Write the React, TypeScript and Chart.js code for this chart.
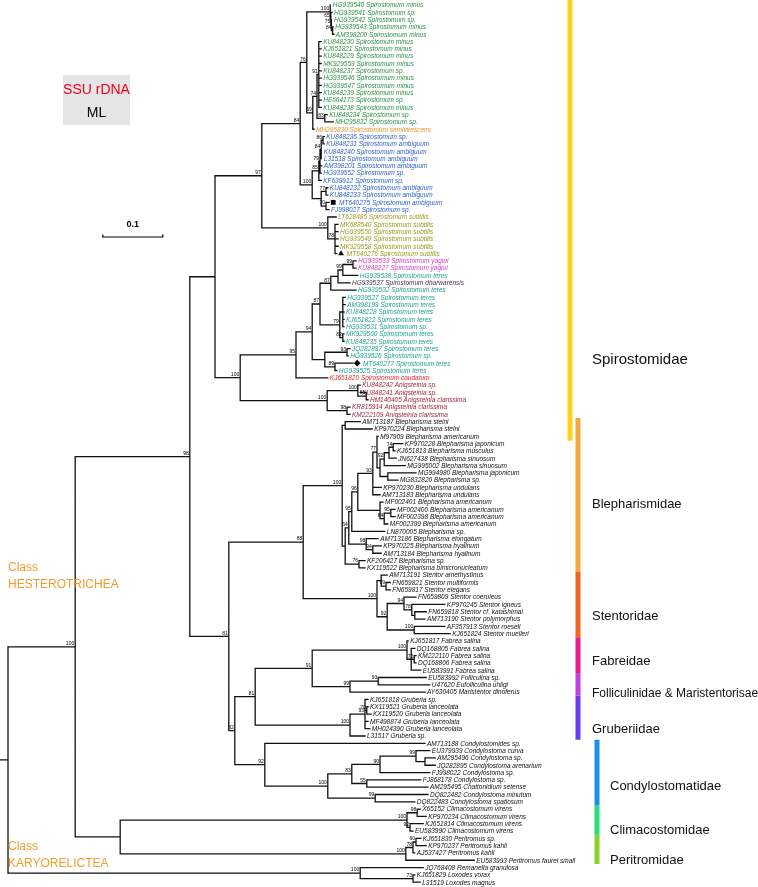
import React, { useEffect, useRef } from "react";
import { Chart, registerables } from "chart.js";

Chart.register(...registerables);

// ---------------- DATA ----------------
const accessions = [
  "HG939540","HG939541","HG939542","HG939543","AM398200","KU848230","KJ651821","KU848229","MK929559","KU848237",
  "HG939546","HG939547","KU848239","HE664173","KU848238","KU848234","MH295832","MH295830","KU848236","KU848231",
  "KU848240","L31518","AM398201","HG939552","KF639912","KU848232","KU848233","MT640275","FJ998027","LT628485",
  "MK688540","HG939550","HG939549","MK929558","MT640276","HG939533","KU848227","HG939538","HG939537","HG939532",
  "HG939527","AM398199","KU848228","KJ651822","HG939531","MK929560","KU848235","JQ282897","HG939526","MT640277",
  "HG939525","KJ651820","KU848242","KU848241","HM140405","KR815914","KM222109","AM713187","KP970224","M97909",
  "KP970228","KJ651813","JN627438","MG995002","MG994980","MG832820","KP970230","AM713183","MF002401","MF002400",
  "MF002398","MF002399","LN870005","AM713186","KP970225","AM713184","KF206427","KX119522","AM713191","FN659821",
  "FN659817","FN659809","KP970245","FN659818","AM713190","AF357913","KJ651824","KJ651817","DQ168805","KM222110",
  "DQ168806","EU583991","EU583992","U47620","AY630405","KJ651818","KX119521","KX119520","MF498874","MH024390",
  "L31517","AM713188","EU379939","AM295496","JQ282895","FJ998022","FJ868178","AM295495","DQ822482","DQ822483",
  "X65152","KP970234","KJ651814","EU583990","KJ651830","KP970237","AJ537427","EU583993","JQ768408","KJ651829",
  "L31519",
];

const species = [
  "Spirostomum minus","Spirostomum sp.","Spirostomum sp.","Spirostomum minus","Spirostomum minus",
  "Spirostomum minus","Spirostomum minus","Spirostomum minus","Spirostomum minus","Spirostomum sp.",
  "Spirostomum minus","Spirostomum minus","Spirostomum minus","Spirostomum sp.","Spirostomum minus",
  "Spirostomum sp.","Spirostomum sp.","Spirostomum semivirescens","Spirostomum sp.","Spirostomum ambiguum",
  "Spirostomum ambiguum","Spirostomum ambiguum","Spirostomum ambiguum","Spirostomum sp.","Spirostomum sp.",
  "Spirostomum ambiguum","Spirostomum ambiguum","Spirostomum ambiguum","Spirostomum sp.","Spirostomum subtilis",
  "Spirostomum subtilis","Spirostomum subtilis","Spirostomum subtilis","Spirostomum subtilis","Spirostomum subtilis",
  "Spirostomum yagiui","Spirostomum yagiui","Spirostomum teres","Spirostomum dharwarensis","Spirostomum teres",
  "Spirostomum teres","Spirostomum teres","Spirostomum teres","Spirostomum teres","Spirostomum sp.",
  "Spirostomum teres","Spirostomum teres","Spirostomum teres","Spirostomum sp.","Spirostomum teres",
  "Spirostomum teres","Spirostomum caudatum","Anigsteinia sp.","Anigsteinia sp.","Anigsteinia clarissima",
  "Anigsteinia clarissima","Anigsteinia clarissima","Blepharisma steini","Blepharisma steini","Blepharisma americanum",
  "Blepharisma japonicum","Blepharisma musculus","Blepharisma sinuosum","Blepharisma sinuosum","Blepharisma japonicum",
  "Blepharisma sp.","Blepharisma undulans","Blepharisma undulans","Blepharisma americanum","Blepharisma americanum",
  "Blepharisma americanum","Blepharisma americanum","Blepharisma sp.","Blepharisma elongatum","Blepharisma hyalinum",
  "Blepharisma hyalinum","Blepharisma sp.","Blepharisma bimicronucleatum","Stentor amethystinus","Stentor multiformis",
  "Stentor elegans","Stentor coeruleus","Stentor igneus","Stentor cf. katashimai","Stentor polymorphus",
  "Stentor roeseli","Stentor muelleri","Fabrea salina","Fabrea salina","Fabrea salina",
  "Fabrea salina","Fabrea salina","Folliculina sp.","Eufolliculina uhligi","Maristentor dinoferus",
  "Gruberia sp.","Gruberia lanceolata","Gruberia lanceolata","Gruberia lanceolata","Gruberia lanceolata",
  "Gruberia sp.","Condylostomides sp.","Condylostoma curva","Condylostoma sp.","Condylostoma arenarium",
  "Condylostoma sp.","Condylostoma sp.","Chattonidium setense","Condylostoma minutum","Condylostoma spatiosum",
  "Climacostomum virens","Climacostomum virens","Climacostomum virens","Climacostomum virens","Peritromus sp.",
  "Peritromus kahli","Peritromus kahli","Peritromus faurei small","Remanella granulosa","Loxodes vorax",
  "Loxodes magnus",
];

// root-to-tip distances, in 10^-3 substitutions per site (tips listed top to bottom)
const tipDistances = [
  538, 540, 540, 542, 543, 522, 522, 522, 522, 522,
  522, 522, 522, 522, 522, 532, 542, 510, 527, 527,
  523, 523, 523, 522, 522, 533, 533, 535, 535, 547,
  550, 550, 550, 550, 548, 580, 580, 583, 570, 580,
  562, 562, 560, 560, 560, 560, 560, 570, 567, 575,
  548, 533, 587, 587, 600, 570, 570, 587, 607, 617,
  658, 645, 647, 662, 680, 650, 622, 620, 625, 645,
  645, 633, 628, 617, 622, 622, 595, 595, 632, 637,
  637, 680, 728, 697, 695, 728, 737, 667, 678, 680,
  680, 688, 697, 703, 695, 600, 600, 605, 600, 603,
  595, 695, 703, 712, 712, 703, 688, 700, 700, 678,
  687, 697, 692, 675, 688, 697, 678, 777, 692, 678,
  687,
];

// Topology: numbers are tip ids (1-based, top to bottom); ")NN" bootstrap; ":NNN" root-to-node distance (10^-3)
const spiroMinusClade = "((1,(2,(3,(4,5)84:541)75:539)65:538)100:537,(((6,7,8,9,10,11,12,13,14,15)91:518,(16,17)83:528)74:515,18)59:508)76:498";
const spiroAmbiguumClade = "(((((19,20)86:525,21,22)84:522,23,24)79:520,25)85:518,((26,27)77:530,(28,29)70:530):522)100:507";
const spiroSubtilisClade = "(30,(31,32,33,34,35)78:545)100:533";
const spiroTeresClade = "(((((((36,37)99:575,38)99:558,39):550,40)87:538,((41,42,43,44,45):558,(46,47)82:558)79:553)87:520,((48,49)93:565,(50,51)89:545):528)94:507,52)95:480";
const anigsteiniaClade = "((53,(54,55)81:597)100:583,(56,57)98:565)100:532";
const blepharismidaeClade = "((58,59):562,((((((60,((((61,62)74:642,63):635,64)92:627,(65,66):633):620)77:615,67,68)93:608,(69,((70,71)95:638,72)84:627):620)96:583,73)95:573,(74,(75,76)94:608)98:597)64:568,(77,78)76:585):562)100:557";
const stentoridaeClade = "((79,(80,81)99:630):622,((82,(83,(84,85):678)78:673)94:660,(86,87)100:677)92:632)100:615";
const fabreidaeClade = "(88,(89,(90,91)72:677,92):672)100:665";
const folliculinidaeClade = "((93,94)93:617,95)99:570";
const gruberiidaeClade = "((96,(97,98)70:598,99,100)93:595,101)100:570";
const condylostomatidaeClade = "(102,((((103,(104,105):695)99:680,106)90:620,(107,108)55:598)83:573,(109,110)99:612)100:533)92:428";
const climacostomidaeClade = "((111,112)98:682,(113,114)92:670)100:665";
const peritromidaeClade = "(((115,116)60:680,117)78:675,118)100:663";
const karyorelicteaClade = "(119,(120,121)73:675)100:587";

const spirostomidaeTree =
  `(((${spiroMinusClade},${spiroAmbiguumClade})84:487,${spiroSubtilisClade})97:423,(${spiroTeresClade},${anigsteiniaClade})100:387):345`;
const lowerHeterotricheaTree =
  `((${blepharismidaeClade},${stentoridaeClade})88:492,(((${fabreidaeClade},${folliculinidaeClade})91:507,${gruberiidaeClade})81:412,${condylostomatidaeClade})82:378)81:368`;
const treeNewick =
  `(((${spirostomidaeTree},${lowerHeterotricheaTree})98:303,(${climacostomidaeClade},${peritromidaeClade}):187)100:112,${karyorelicteaClade}):0`;

const tipColorRanges = [
  { from: 1, to: 17, color: "#2a9142" },
  { from: 18, to: 18, color: "#e8962a" },
  { from: 19, to: 29, color: "#2d62c8" },
  { from: 30, to: 35, color: "#9c9a1c" },
  { from: 36, to: 37, color: "#d23fc1" },
  { from: 38, to: 38, color: "#1f9e98" },
  { from: 39, to: 39, color: "#4a2d55" },
  { from: 40, to: 51, color: "#1f9e98" },
  { from: 52, to: 52, color: "#ee2a2a" },
  { from: 53, to: 57, color: "#a8283a" },
];
const markedTips = [28, 35, 50];
const markerStyles = ["rect", "triangle", "rectRot"];

const families = [
  "Spirostomidae", "Blepharismidae", "Stentoridae", "Fabreidae", "Folliculinidae & Maristentorisae",
  "Gruberiidae", "Condylostomatidae", "Climacostomidae", "Peritromidae",
];
const familyBarFrom = [0.3, 58, 79, 88, 93, 96, 102, 111, 115];
const familyBarTo = [60.1, 78, 87, 92, 95, 101, 110, 114, 118];
const familyLabelAt = [48.5, 68.3, 83.6, 89.8, 94.2, 99.1, 106.9, 112.9, 117.0];
const familyColors = ["#ffd21f", "#f7a83a", "#f26522", "#ec1c8c", "#c23ee8", "#6a3cf0", "#1e8fe8", "#23e07a", "#8ad22a"];

const scaleBarLength = 100; // = 0.1 substitutions per site

// ---------------- TREE ----------------
type TNode = { leaf: number; kids: TNode[]; depth: number; support: string; y: number };

function parseTree(src: string): TNode {
  const s = src.replace(/\s+/g, "");
  let i = 0;
  const read = (re: RegExp) => {
    let t = "";
    while (i < s.length && re.test(s[i])) t += s[i++];
    return t;
  };
  const node = (): TNode => {
    if (s[i] === "(") {
      i++;
      const kids = [node()];
      while (s[i] === ",") {
        i++;
        kids.push(node());
      }
      i++; // ')'
      const support = read(/[0-9]/);
      let depth = 0;
      if (s[i] === ":") {
        i++;
        depth = parseFloat(read(/[0-9.]/));
      }
      return { leaf: -1, kids, depth, support, y: (kids[0].y + kids[kids.length - 1].y) / 2 };
    }
    const id = parseInt(read(/[0-9]/), 10) - 1;
    return { leaf: id, kids: [], depth: tipDistances[id], support: "", y: id };
  };
  return node();
}

const tree = parseTree(treeNewick);
const internalNodes: TNode[] = [];
const branchPoints: { x: number | null; y: number | null }[] = [];
(function walk(n: TNode, parentDepth: number) {
  branchPoints.push({ x: parentDepth, y: n.y }, { x: n.depth, y: n.y }, { x: null, y: null });
  if (n.kids.length) {
    internalNodes.push(n);
    branchPoints.push({ x: n.depth, y: n.kids[0].y }, { x: n.depth, y: n.kids[n.kids.length - 1].y }, { x: null, y: null });
    n.kids.forEach((k) => walk(k, n.depth));
  }
})(tree, -14);

function tipColor(id: number) {
  for (const r of tipColorRanges) if (id >= r.from && id <= r.to) return r.color;
  return "#111";
}

// pixel layout helpers (styling only)
const W = 758;
const H = 887;
const familyBarPx = [570, 578, 578, 578, 578, 578, 597, 597, 597];
const familyLabelPx = [592, 592, 592, 592, 592, 592, 610, 610, 610];
const familyFontPx = [15, 13, 13, 13, 12, 13, 13, 13, 13];

const treeTextPlugin = {
  id: "treeText",
  afterDatasetsDraw(chart: any) {
    const ctx: CanvasRenderingContext2D = chart.ctx;
    const xs = chart.scales.x;
    const ys = chart.scales.y;
    ctx.save();

    // tip labels
    ctx.textAlign = "left";
    ctx.textBaseline = "middle";
    ctx.font = "italic 6.5px 'Liberation Sans', Arial, sans-serif";
    for (let i = 0; i < accessions.length; i++) {
      const id = i + 1;
      const off = markedTips.includes(id) ? 10 : 2;
      ctx.fillStyle = tipColor(id);
      ctx.fillText(`${accessions[i]} ${species[i]}`, xs.getPixelForValue(tipDistances[i]) + off, ys.getPixelForValue(i) + 0.5);
    }

    // bootstrap values
    ctx.font = "5px 'Liberation Sans', Arial, sans-serif";
    ctx.textAlign = "right";
    ctx.textBaseline = "bottom";
    ctx.fillStyle = "#000";
    for (const n of internalNodes) {
      if (!n.support) continue;
      ctx.fillText(n.support, xs.getPixelForValue(n.depth) - 1, ys.getPixelForValue(n.y) - 0.6);
    }

    // family labels
    ctx.textAlign = "left";
    ctx.textBaseline = "middle";
    ctx.fillStyle = "#111";
    families.forEach((f, k) => {
      ctx.font = `${familyFontPx[k]}px 'Liberation Sans', Arial, sans-serif`;
      ctx.fillText(f, familyLabelPx[k], ys.getPixelForValue(familyLabelAt[k]));
    });

    // class labels
    ctx.fillStyle = "#f39c2c";
    ctx.font = "12px 'Liberation Sans', Arial, sans-serif";
    ctx.textBaseline = "alphabetic";
    ctx.fillText("Class", 8, 571);
    ctx.fillText("HESTEROTRICHEA", 8, 588);
    ctx.fillText("Class", 8, 850);
    ctx.fillText("KARYORELICTEA", 8, 867);

    // legend box
    ctx.fillStyle = "#e5e5e5";
    ctx.fillRect(63, 75, 67, 50);
    ctx.textAlign = "center";
    ctx.font = "14px 'Liberation Sans', Arial, sans-serif";
    ctx.fillStyle = "#e8001c";
    ctx.fillText("SSU rDNA", 96.5, 94);
    ctx.fillStyle = "#000";
    ctx.fillText("ML", 96.5, 117);

    // scale bar label
    ctx.font = "bold 9px 'Liberation Sans', Arial, sans-serif";
    ctx.fillText("0.1", (xs.getPixelForValue(158) + xs.getPixelForValue(158 + scaleBarLength)) / 2, 227);
    ctx.restore();
  },
};

export default function App() {
  const ref = useRef<HTMLCanvasElement | null>(null);
  useEffect(() => {
    if (!ref.current) return;
    const xMin = -8 / 0.6;
    const xMax = xMin + W / 0.6;
    const yMin = -5 / 7.31;
    const yMax = yMin + H / 7.31;
    const xOfPx = (px: number) => xMin + (px / W) * (xMax - xMin);

    const datasets: any[] = [];
    families.forEach((f, k) => {
      datasets.push({
        label: f,
        data: [
          { x: xOfPx(familyBarPx[k]), y: familyBarFrom[k] - 1.5 },
          { x: xOfPx(familyBarPx[k]), y: familyBarTo[k] - 0.5 },
        ],
        showLine: true,
        borderColor: familyColors[k],
        borderWidth: 5,
        pointRadius: 0,
        borderCapStyle: "butt",
      });
    });
    datasets.push({
      label: "branches",
      data: branchPoints,
      showLine: true,
      spanGaps: false,
      borderColor: "#111",
      borderWidth: 1.3,
      borderCapStyle: "square",
      pointRadius: 0,
    });
    datasets.push({
      label: "markers",
      data: markedTips.map((id) => ({ x: tipDistances[id - 1] + 7, y: id - 1 })),
      pointStyle: markerStyles,
      pointRadius: 3.4,
      backgroundColor: "#000",
      borderColor: "#000",
      borderWidth: 0,
      showLine: false,
    });
    const sbY = (237 - 5) / 7.31;
    datasets.push({
      label: "scale",
      data: [
        { x: 158, y: sbY - 0.35 }, { x: 158, y: sbY }, { x: 158 + scaleBarLength, y: sbY }, { x: 158 + scaleBarLength, y: sbY - 0.35 },
      ],
      showLine: true,
      borderColor: "#000",
      borderWidth: 1.2,
      pointRadius: 0,
    });

    const chart = new Chart(ref.current, {
      type: "scatter",
      data: { datasets },
      options: {
        animation: false,
        responsive: false,
        devicePixelRatio: 1,
        events: [],
        layout: { padding: 0, autoPadding: false },
        plugins: { legend: { display: false }, tooltip: { enabled: false }, title: { display: false } },
        scales: {
          x: { type: "linear", min: xMin, max: xMax, display: false },
          y: { type: "linear", min: yMin, max: yMax, reverse: true, display: false },
        },
      },
      plugins: [treeTextPlugin],
    } as any);
    return () => chart.destroy();
  }, []);

  return (
    <div style={{ position: "absolute", left: 0, top: 0, width: W, height: H, background: "#fff" }}>
      <canvas ref={ref} width={W} height={H} style={{ display: "block", width: W, height: H }} />
    </div>
  );
}
